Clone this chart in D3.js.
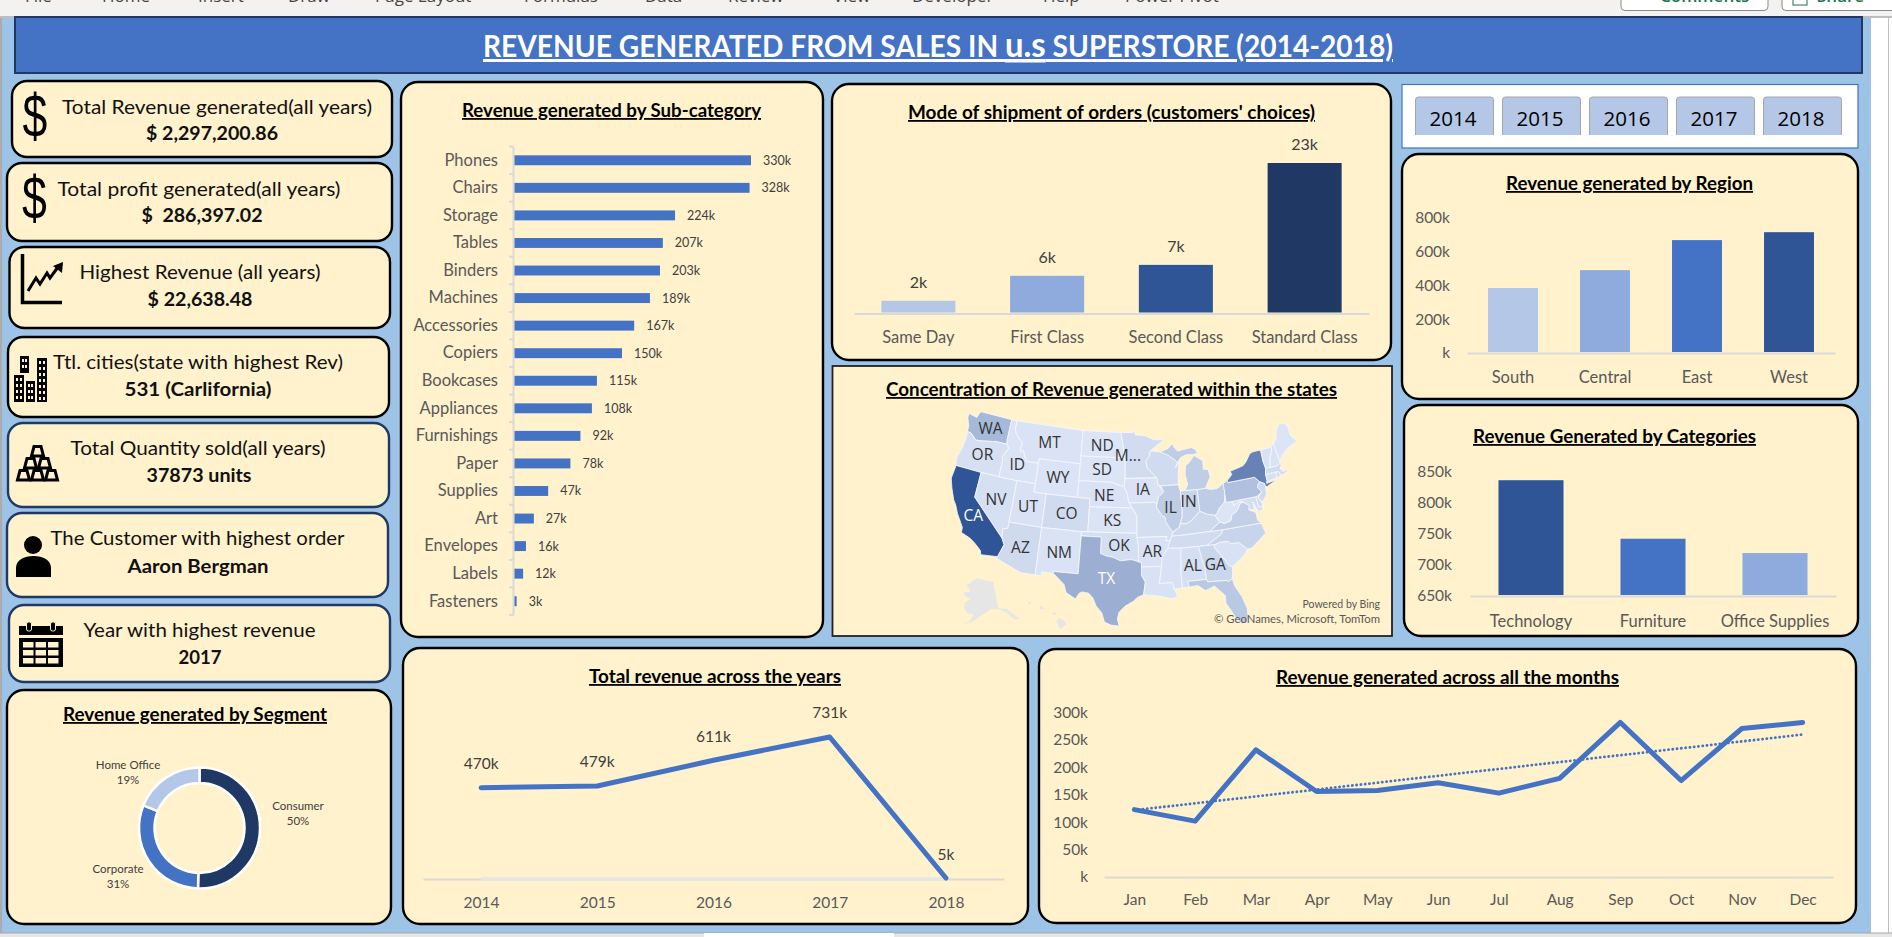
<!DOCTYPE html>
<html>
<head>
<meta charset="utf-8">
<title>Revenue dashboard</title>
<script src="https://cdn.jsdelivr.net/npm/d3@7"></script>
<style>
body {margin:0; background:#fff; overflow:hidden;}
text {font-family:Lato,"Open Sans",sans-serif;}
.axis text {font-size:15.5px; fill:#595959;}
.axis.names text {font-size:16.5px;}
.axis path, .axis line {stroke:#D9D9D9; stroke-width:2;}
.lbl {font-size:16px; fill:#404040; text-anchor:middle;}
.title {font-size:18px; font-weight:700; fill:#000; text-anchor:middle; text-decoration:underline;}
.card1 {font-size:19px; fill:#111; text-anchor:middle;}
.card2 {font-size:19px; font-weight:700; fill:#111; text-anchor:middle;}
.st {font-family:"Open Sans",sans-serif; font-size:15.5px; fill:#333; text-anchor:middle;}
</style>
</head>
<body>
<svg id="plot" width="1892" height="937"></svg>
<script>
// data
var subCats = ['Phones','Chairs','Storage','Tables','Binders','Machines','Accessories','Copiers','Bookcases','Appliances','Furnishings','Paper','Supplies','Art','Envelopes','Labels','Fasteners'];
var subVals = [330,328,224,207,203,189,167,150,115,108,92,78,47,27,16,12,3];

var shipModes = ['Same Day','First Class','Second Class','Standard Class'];
var shipVals = [1940,5760,7430,23000];
var shipColors = ['#B4C7E7','#8FAADC','#2F5597','#203864'];

var regions = ['South','Central','East','West'];
var regionVals = [385,491,669,716];
var regionColors = ['#B4C7E7','#8FAADC','#4472C4','#2F5597'];
var regionTicks = [0,200,400,600,800];

var categories = ['Technology','Furniture','Office Supplies'];
var categoryVals = [836,742,719];
var categoryColors = ['#2F5597','#4472C4','#8FAADC'];
var categoryTicks = [650,700,750,800,850];

var years = ['2014','2015','2016','2017','2018'];
var yearVals = [470,479,611,731,5];
var yearFloor = [0,0,0,0,0];

var months = ['Jan','Feb','Mar','Apr','May','Jun','Jul','Aug','Sep','Oct','Nov','Dec'];
var monthVals = [123,102,232,156,158,172,153,180,282,176,271,282];
var monthTrendMonths = ['Jan','Dec'];
var monthTrendVals = [122,260];
var monthTicks = [0,50,100,150,200,250,300];

var segments = ['Consumer','Corporate','Home Office'];
var segmentVals = [50.4,30.7,18.9];
var segmentColors = ['#203864','#4472C4','#B4C7E7'];

var slicerYears = ['2014','2015','2016','2017','2018'];

var kpiLabels = ['Total Revenue generated(all years)','Total profit generated(all years)','Highest Revenue (all years)','Ttl. cities(state with highest Rev)','Total Quantity sold(all years)','The Customer with highest order','Year with highest revenue'];
var kpiValues = ['$ 2,297,200.86','$\u00A0 286,397.02','$ 22,638.48','531 (Carlifornia)','37873 units','Aaron Bergman','2017'];

// state revenue in thousands, estimated from the shade of each state
var stateRevenue = {CA:457,NY:310,TX:170,WA:139,PA:117,FL:89,IL:80,OH:78,MI:76,VA:70,NC:55,IN:53,GA:49,KY:37,NJ:35,AZ:35,WI:32,CO:32,TN:30,MN:30,MA:29,DE:27,MD:23,RI:22,MO:22,OK:19,AL:19,OR:17,NV:16,AR:11,CT:13,UT:11,MS:10,LA:9,SC:8,NE:7,NH:7,MT:5,NM:5,IA:5,KS:3,ID:4,VT:9,ME:1,SD:1,ND:1,WV:1,WY:2};

// rough state outlines, lon/lat
var stateShapes = {
WA:[[-124.7,48.4],[-123.2,48.2],[-122.8,49],[-117.03,49],[-117.04,46.4],[-116.92,45.99],[-118.98,46],[-119.3,45.93],[-121.2,45.65],[-122.3,45.55],[-122.8,45.9],[-123.4,46.2],[-124.05,46.27],[-124.1,46.9],[-124.7,47.9]],
OR:[[-124.05,46.27],[-123.4,46.2],[-122.8,45.9],[-122.3,45.55],[-121.2,45.65],[-119.3,45.93],[-118.98,46],[-116.92,45.99],[-116.46,45.6],[-117.2,44.4],[-117.03,44],[-117.03,42],[-120,42],[-124.2,42],[-124.55,42.85],[-124.1,44],[-123.95,45.5]],
CA:[[-124.2,42],[-120,42],[-120,39],[-114.63,35],[-114.13,34.27],[-114.72,32.72],[-117.12,32.53],[-117.3,33],[-118.4,33.75],[-119.2,34.15],[-120.6,34.55],[-120.65,35.15],[-121.9,36.6],[-122.5,37.5],[-123,38],[-123.8,39.3],[-124.35,40.4]],
NV:[[-120,42],[-117.03,42],[-114.04,42],[-114.04,37],[-114.04,36.2],[-114.75,36.1],[-114.63,35],[-120,39]],
ID:[[-117.03,49],[-116.05,49],[-116.05,48],[-115.7,47.45],[-114.7,46.7],[-114.35,46.65],[-114.5,45.55],[-113.9,45.6],[-113.45,44.9],[-113,44.45],[-111.05,44.48],[-111.05,42],[-114.04,42],[-117.03,42],[-117.03,44],[-117.2,44.4],[-116.46,45.6],[-116.92,45.99],[-117.04,46.4]],
MT:[[-116.05,49],[-104.05,49],[-104.05,45.94],[-104.05,45],[-111.05,45],[-111.05,44.48],[-113,44.45],[-113.45,44.9],[-113.9,45.6],[-114.5,45.55],[-114.35,46.65],[-114.7,46.7],[-115.7,47.45],[-116.05,48]],
WY:[[-111.05,45],[-104.05,45],[-104.05,43],[-104.05,41],[-109.05,41],[-111.05,41],[-111.05,42],[-111.05,44.48]],
UT:[[-114.04,42],[-111.05,42],[-111.05,41],[-109.05,41],[-109.05,37],[-114.04,37]],
CO:[[-109.05,41],[-104.05,41],[-102.05,41],[-102.05,40],[-102.05,37],[-103,37],[-109.05,37]],
AZ:[[-114.04,37],[-109.05,37],[-109.05,31.33],[-111.07,31.33],[-114.81,32.49],[-114.72,32.72],[-114.13,34.27],[-114.63,35],[-114.75,36.1],[-114.04,36.2]],
NM:[[-109.05,37],[-103,37],[-103,36.5],[-103.04,32],[-106.62,32],[-106.53,31.78],[-108.2,31.78],[-108.2,31.33],[-109.05,31.33]],
ND:[[-104.05,49],[-97.23,49],[-96.85,47.5],[-96.56,45.94],[-104.05,45.94]],
SD:[[-104.05,45.94],[-96.56,45.94],[-96.45,45.3],[-96.45,43.5],[-96.6,42.5],[-97.9,42.8],[-98.5,43],[-104.05,43],[-104.05,45]],
NE:[[-104.05,43],[-98.5,43],[-97.9,42.8],[-96.6,42.5],[-96.1,41.7],[-95.85,40.7],[-95.3,40],[-102.05,40],[-102.05,41],[-104.05,41]],
KS:[[-102.05,40],[-95.3,40],[-94.62,39.1],[-94.62,37],[-103,37],[-102.05,37]],
OK:[[-103,37],[-94.62,37],[-94.62,36.5],[-94.43,35.4],[-94.48,33.64],[-95.5,33.9],[-97.1,33.75],[-98.1,34.13],[-99.2,34.3],[-100,34.56],[-100,36.5],[-103,36.5]],
TX:[[-106.62,32],[-103.04,32],[-103,36.5],[-100,36.5],[-100,34.56],[-99.2,34.3],[-98.1,34.13],[-97.1,33.75],[-95.5,33.9],[-94.48,33.64],[-94.04,33.55],[-94.04,33],[-94.04,31.99],[-93.55,31.2],[-93.84,29.7],[-94.7,29.4],[-95.3,28.9],[-96.4,28.35],[-97.2,27.6],[-97.4,26.8],[-97.15,25.96],[-98.2,26.05],[-99.1,26.4],[-99.5,27.5],[-100.3,28.3],[-100.8,29.25],[-101.4,29.77],[-102.3,29.88],[-102.7,29.7],[-103.15,28.98],[-104.5,29.65],[-104.9,30.6],[-106.53,31.78]],
MN:[[-97.23,49],[-95.15,49],[-95.15,49.38],[-94.6,48.7],[-93,48.6],[-91.4,48.05],[-89.6,48],[-92.1,46.75],[-92.3,46.1],[-92.9,45.6],[-92.75,44.75],[-91.2,43.5],[-96.45,43.5],[-96.45,45.3],[-96.56,45.94],[-96.85,47.5]],
IA:[[-96.45,43.5],[-91.2,43.5],[-91.1,42.7],[-90.2,41.8],[-91.1,41.2],[-91.4,40.4],[-91.7,40.6],[-95.77,40.58],[-95.85,40.7],[-96.1,41.7],[-96.6,42.5]],
MO:[[-95.77,40.58],[-91.7,40.6],[-91.4,40.4],[-91.5,40],[-90.7,39],[-90.2,38.75],[-90.2,38.3],[-89.5,37.3],[-89.15,37],[-89.4,36.5],[-89.7,36],[-90.37,36],[-90.15,36.5],[-94.62,36.5],[-94.62,37],[-94.62,39.1],[-95.3,40],[-95.85,40.7]],
AR:[[-94.62,36.5],[-90.15,36.5],[-90.37,36],[-89.7,36],[-90.1,35.1],[-90.6,34.6],[-91.1,33.9],[-91.17,33],[-94.04,33],[-94.04,33.55],[-94.48,33.64],[-94.43,35.4]],
LA:[[-94.04,33],[-91.17,33],[-91.6,31],[-89.73,31],[-89.6,30.2],[-89.4,29.9],[-89.2,29.2],[-90.2,29.1],[-91.3,29.4],[-92.3,29.55],[-93.84,29.7],[-93.55,31.2],[-94.04,31.99]],
WI:[[-92.1,46.75],[-90.4,46.55],[-89.1,46.1],[-87.8,45.35],[-87.6,45.1],[-88,44.55],[-87.3,45.2],[-87.55,44.2],[-87.8,42.5],[-90.65,42.5],[-91.1,42.7],[-91.2,43.5],[-92.75,44.75],[-92.9,45.6],[-92.3,46.1]],
IL:[[-90.65,42.5],[-87.8,42.5],[-87.53,41.7],[-87.53,39.35],[-87.6,38.7],[-88,37.9],[-88.1,37.5],[-89.15,37],[-89.5,37.3],[-90.2,38.3],[-90.2,38.75],[-90.7,39],[-91.5,40],[-91.4,40.4],[-91.1,41.2],[-90.2,41.8]],
IN:[[-87.53,41.7],[-87.2,41.75],[-86.8,41.76],[-84.8,41.7],[-84.8,39.1],[-85.4,38.7],[-86.3,38.1],[-87.1,37.8],[-88,37.9],[-87.6,38.7],[-87.53,39.35]],
OH:[[-84.8,41.7],[-83.45,41.73],[-82.7,41.5],[-81.6,41.5],[-80.52,41.98],[-80.52,40.64],[-80.85,39.7],[-81.7,39.2],[-82.2,38.6],[-82.6,38.4],[-83.7,38.65],[-84.8,39.1]],
MI:[[-86.8,41.76],[-84.8,41.7],[-83.45,41.73],[-83.1,42.2],[-82.45,43],[-82.6,43.9],[-83.4,44],[-83.3,45],[-84.7,45.78],[-85.6,45],[-86.3,44.7],[-86.5,43.6],[-86.25,42.4]],
MIU:[[-90.4,46.55],[-89,46.9],[-88.2,47.45],[-87.9,46.9],[-87.4,46.5],[-85,46.75],[-84.4,46.5],[-84,46],[-84.75,45.9],[-86,45.95],[-87,45.7],[-87.6,45.1],[-87.8,45.35],[-89.1,46.1]],
KY:[[-89.15,37],[-88.1,37.5],[-88,37.9],[-87.1,37.8],[-86.3,38.1],[-85.4,38.7],[-84.8,39.1],[-83.7,38.65],[-82.6,38.4],[-81.97,37.54],[-83.68,36.6],[-88.07,36.5],[-89.4,36.5]],
TN:[[-89.4,36.5],[-88.07,36.5],[-83.68,36.6],[-81.68,36.59],[-82,36.1],[-84.32,35],[-85.6,35],[-88.2,35],[-90.1,35.1],[-89.7,36]],
MS:[[-90.1,35.1],[-88.2,35],[-88.47,31.9],[-88.4,30.3],[-89.6,30.2],[-89.73,31],[-91.6,31],[-91.17,33],[-91.1,33.9],[-90.6,34.6]],
AL:[[-88.2,35],[-85.6,35],[-85.18,32.87],[-85,32.3],[-85,31],[-87.6,31],[-87.5,30.3],[-88.4,30.3],[-88.47,31.9]],
GA:[[-85.6,35],[-84.32,35],[-83.1,35],[-83.35,34.7],[-81.45,32.2],[-81.1,32.1],[-81.4,30.7],[-82,30.4],[-82.2,30.57],[-84.86,30.7],[-85,31],[-85,32.3],[-85.18,32.87]],
FL:[[-87.6,31],[-85,31],[-84.86,30.7],[-82.2,30.57],[-82,30.4],[-81.4,30.7],[-81.25,29.8],[-80.5,28.4],[-80.05,26.9],[-80.15,25.75],[-80.4,25.2],[-81.1,25.15],[-81.8,26.1],[-82.2,26.9],[-82.75,27.9],[-82.7,28.8],[-83.4,29.5],[-84,30.1],[-85.3,29.7],[-86.3,30.4],[-87.5,30.3]],
SC:[[-83.1,35],[-82.3,35.2],[-81.05,35.1],[-80.8,34.82],[-79.67,34.8],[-78.55,33.85],[-79.2,33.2],[-80.4,32.5],[-81.1,32.1],[-81.45,32.2],[-83.35,34.7]],
NC:[[-84.32,35],[-82,36.1],[-81.68,36.59],[-75.87,36.55],[-75.5,35.3],[-76.5,34.7],[-77.9,33.9],[-78.55,33.85],[-79.67,34.8],[-80.8,34.82],[-81.05,35.1],[-82.3,35.2],[-83.1,35]],
VA:[[-83.68,36.6],[-81.97,37.54],[-81.3,37.3],[-80.3,37.5],[-79.95,38.2],[-79.3,38.4],[-78.87,38.76],[-78.35,39.4],[-77.75,39.32],[-77.05,38.85],[-77.3,38.4],[-76.3,37.9],[-76.3,37],[-75.87,36.55],[-81.68,36.59]],
WV:[[-82.6,38.4],[-82.2,38.6],[-81.7,39.2],[-80.85,39.7],[-80.52,40.64],[-80.52,39.72],[-79.48,39.72],[-79.48,39.2],[-78.4,39.65],[-77.75,39.32],[-78.35,39.4],[-78.87,38.76],[-79.3,38.4],[-79.95,38.2],[-80.3,37.5],[-81.3,37.3],[-81.97,37.54]],
MD:[[-79.48,39.72],[-75.79,39.72],[-75.7,38.46],[-75.05,38.45],[-75.25,38.03],[-75.9,37.95],[-76.45,39.2],[-76.4,38.3],[-77.3,38.4],[-77.05,38.85],[-77.75,39.32],[-78.4,39.65],[-79.48,39.2]],
DE:[[-75.79,39.72],[-75.42,39.8],[-75.1,38.8],[-75.05,38.45],[-75.7,38.46]],
PA:[[-80.52,41.98],[-79.76,42.27],[-79.76,42],[-75.35,42],[-74.7,41.36],[-75.13,40.97],[-75.2,40.7],[-74.72,40.15],[-75.42,39.8],[-75.79,39.72],[-79.48,39.72],[-80.52,39.72],[-80.52,40.64]],
NY:[[-79.76,42.27],[-78.9,42.85],[-79.05,43.27],[-76.8,43.63],[-76.2,44],[-75.3,44.85],[-74.7,45],[-73.35,45],[-73.4,43.6],[-73.27,42.75],[-73.5,42.05],[-73.5,41.3],[-73.65,41],[-72,41.1],[-73.7,40.6],[-74,40.65],[-74,41],[-74.7,41.36],[-75.35,42],[-79.76,42]],
NJ:[[-74.7,41.36],[-74,41],[-74,40.45],[-74.1,39.75],[-74.9,38.95],[-75.5,39.5],[-74.72,40.15],[-75.2,40.7],[-75.13,40.97]],
CT:[[-73.65,41],[-73.5,41.3],[-73.5,42.05],[-71.8,42.02],[-71.85,41.32],[-72.9,41.25]],
RI:[[-71.8,42.02],[-71.38,42.02],[-71.15,41.5],[-71.85,41.32]],
MA:[[-73.5,42.05],[-73.27,42.75],[-72.46,42.73],[-71.3,42.7],[-70.85,42.87],[-70.6,42.65],[-71,42.3],[-70.55,41.8],[-70,42.05],[-70,41.7],[-70.65,41.55],[-71.15,41.5],[-71.38,42.02],[-71.8,42.02]],
VT:[[-73.35,45],[-71.5,45],[-71.6,44.5],[-72.05,44],[-72.45,43],[-72.46,42.73],[-73.27,42.75],[-73.4,43.6]],
NH:[[-71.5,45.25],[-71,45.3],[-70.7,43.1],[-70.85,42.87],[-71.3,42.7],[-72.46,42.73],[-72.45,43],[-72.05,44],[-71.6,44.5],[-71.5,45]],
ME:[[-71,45.3],[-70.3,45.9],[-70,46.7],[-69.2,47.45],[-68.3,47.35],[-67.8,47.05],[-67.8,45.7],[-67,44.85],[-68.8,44.4],[-70.2,43.65],[-70.7,43.1]]
};
var greyShapes = [
[[-141,69.65],[-141,60.3],[-135.5,59.5],[-130,55],[-133,55.2],[-136,58],[-140,59.7],[-146,60.6],[-150,59.3],[-153,58.5],[-158,56.5],[-165,54.5],[-161,56],[-157.5,58.7],[-162,59],[-165,60.5],[-165,62.5],[-161,64],[-165,64.5],[-168,65.6],[-162,66.5],[-166,68.4],[-156.5,71.3],[-148,70.4]],
[[-156.06,19.73],[-155.83,20.27],[-155.2,19.97],[-154.8,19.5],[-155.67,18.92]],
[[-156.7,20.9],[-156.3,20.95],[-156,20.75],[-156.4,20.57]],
[[-158.25,21.55],[-157.95,21.7],[-157.65,21.3],[-158.1,21.3]],
[[-159.75,22.1],[-159.4,22.23],[-159.3,21.95],[-159.6,21.9]]
];
var stateLabels = ['WA','OR','ID','MT','ND','M...','WY','SD','NV','UT','CO','NE','IA','IL','IN','CA','KS','AZ','NM','OK','AR','TX','AL','GA'];
var stateLabelLon = [-120.3,-120.5,-114.5,-109.7,-100.5,-96,-107.5,-100.3,-116.7,-111.6,-105.5,-99.8,-93.6,-89.3,-86.4,-119.5,-98.4,-111.7,-106,-97.3,-92.4,-99,-86.7,-83.5];
var stateLabelLat = [47.3,44,43.8,47,47.3,46.2,43,44.4,39.3,39.2,38.9,41.4,42.1,39.8,40.3,36.8,38.5,34.2,34.2,35.5,34.8,31.5,32.8,32.6];

var ribbonTabs = ['File','Home','Insert','Draw','Page Layout','Formulas','Data','Review','View','Developer','Help','Power Pivot'];

var svg = d3.select('#plot');
var fmtK = function(d){ return d === 0 ? 'k' : d + 'k'; };

// window chrome and sheet background
svg.append('rect').attr('width',1892).attr('height',937).attr('fill','#fff');
svg.append('rect').attr('x',2).attr('y',18).attr('width',1869).attr('height',915).attr('fill','#9DC3E6');
svg.append('rect').attr('x',0).attr('y',18).attr('width',2).attr('height',915).attr('fill','#ABABAB');
svg.append('line').attr('x1',1888.5).attr('x2',1888.5).attr('y1',18).attr('y2',933).attr('stroke','#BFBFBF');
svg.append('rect').attr('width',1892).attr('height',17).attr('fill','#F3F2F1');
svg.append('line').attr('x1',0).attr('x2',1892).attr('y1',17).attr('y2',17).attr('stroke','#ABABAB').attr('stroke-width',1.5);
var tabX = [25,102,198,288,375,524,645,728,833,912,1043,1125];
svg.selectAll('.tab').data(ribbonTabs).enter().append('text')
    .attr('x',function(d,i){ return tabX[i]; }).attr('y',1.5)
    .style('font-family','Open Sans').style('font-size','17px').attr('fill','#444')
    .text(function(d){ return d; });
svg.append('rect').attr('x',1621).attr('y',-5).attr('width',147).attr('height',15.5).attr('rx',4).attr('fill','#fff').attr('stroke','#8A8A8A');
svg.append('rect').attr('x',1782).attr('y',-5).attr('width',120).attr('height',15.5).attr('rx',4).attr('fill','#fff').attr('stroke','#8A8A8A');
svg.append('text').attr('x',1660).attr('y',2).style('font-family','Open Sans').style('font-size','17px').style('font-weight',600).attr('fill','#217346').text('Comments');
svg.append('text').attr('x',1817).attr('y',2).style('font-family','Open Sans').style('font-size','17px').style('font-weight',600).attr('fill','#217346').text('Share');
svg.append('rect').attr('x',1793).attr('y',-6).attr('width',14).attr('height',11).attr('fill','#fff').attr('stroke','#217346');
svg.append('rect').attr('x',0).attr('y',933).attr('width',1892).attr('height',4).attr('fill','#E6E6E6');
svg.append('line').attr('x1',0).attr('x2',1892).attr('y1',933).attr('y2',933).attr('stroke','#A6A6A6');
svg.append('rect').attr('x',704).attr('y',933).attr('width',190).attr('height',4).attr('fill','#fff');

// header
svg.append('rect').attr('x',15).attr('y',17).attr('width',1847).attr('height',56).attr('fill','#4472C4').attr('stroke','#1F3864').attr('stroke-width',2);
var headTxt = svg.append('text').attr('x',938).attr('y',57).attr('text-anchor','middle')
    .style('font-size','30px').style('font-weight',700).style('text-decoration','underline').attr('fill','#fff')
    .attr('textLength',910).attr('lengthAdjust','spacingAndGlyphs');
headTxt.append('tspan').text('REVENUE GENERATED FROM SALES IN ');
headTxt.append('tspan').style('font-size','35px').text('u.s');
headTxt.append('tspan').text(' SUPERSTORE (2014-2018)');

function panel(x0,y0,x1,y1,color,r){
    svg.append('rect').attr('x',x0).attr('y',y0).attr('width',x1-x0).attr('height',y1-y0)
        .attr('rx',r === undefined ? 17 : r).attr('fill','#FFF2CC').attr('stroke',color || '#000').attr('stroke-width',r === 0 ? 1.8 : 2.4);
}
function title(txt,cx,cy,w){
    svg.append('text').attr('class','title').attr('x',cx).attr('y',cy+7)
        .attr('textLength',w).attr('lengthAdjust','spacingAndGlyphs').text(txt);
}

// kpi cards
var kpiBoxes = [[12,81,392,157,'#000'],[7,163,392,241,'#000'],[9.5,247,390,328,'#000'],[8,337,389,417,'#000'],[8,423,389,507,'#1F3864'],[7,513,388,597,'#1F3864'],[9,605,390,682,'#1F3864']];
var kpiText = [[217,107,310,212,133,132],[199,189,283,202,215,121],[200,272,241,200,299,105],[198,362,290,198,389,147],[198,448,255,199,475,105],[197.5,538,294,198,566,141],[199.5,630,232,200,657,43]];
kpiBoxes.forEach(function(b,i){
    panel(b[0],b[1],b[2],b[3],b[4],15);
    var t = kpiText[i];
    svg.append('text').attr('class','card1').attr('x',t[0]).attr('y',t[1]+6.5)
        .attr('textLength',t[2]).attr('lengthAdjust','spacingAndGlyphs').text(kpiLabels[i]);
    svg.append('text').attr('class','card2').attr('x',t[3]).attr('y',t[4]+6.5)
        .attr('textLength',t[5]).attr('lengthAdjust','spacingAndGlyphs').text(kpiValues[i]);
});

// icons
function dollar(x,y){
    svg.append('text').attr('transform','translate('+x+','+y+') scale(0.72,1)').attr('text-anchor','middle')
        .style('font-family','Liberation Sans').style('font-size','62px').attr('fill','#000').text('$');
}
dollar(35,137);
dollar(34.5,219);
var chartIcon = svg.append('g');
chartIcon.append('path').attr('d','M22.5 254V302.5H62').attr('fill','none').attr('stroke','#000').attr('stroke-width',3.5);
chartIcon.append('path').attr('d','M28 291L36 278L40 284L47 273L50 278L58 267').attr('fill','none').attr('stroke','#000').attr('stroke-width',3);
chartIcon.append('path').attr('d','M53 266L63 262L62 273Z').attr('fill','#000');

var cityIcon = svg.append('g');
[[20,356,9,17],[14,375,10,27],[26,381,9,21],[37,358,10,44]].forEach(function(b){
    cityIcon.append('rect').attr('x',b[0]).attr('y',b[1]).attr('width',b[2]).attr('height',b[3]).attr('fill','#000');
    d3.range(b[1]+3,b[1]+b[3]-4,6).forEach(function(wy){
        cityIcon.append('rect').attr('x',b[0]+2).attr('y',wy).attr('width',2).attr('height',3).attr('fill','#FFF2CC');
        cityIcon.append('rect').attr('x',b[0]+b[2]-4).attr('y',wy).attr('width',2).attr('height',3).attr('fill','#FFF2CC');
    });
});

var goldIcon = svg.append('g');
[[17,469],[31,469],[45,469],[24,457],[38,457],[31,445]].forEach(function(b){
    goldIcon.append('path').attr('d','M'+(b[0]+3)+' '+(b[1]+1.5)+'H'+(b[0]+10)+'L'+(b[0]+12.5)+' '+(b[1]+11)+'H'+(b[0]+0.5)+'Z')
        .attr('fill','none').attr('stroke','#000').attr('stroke-width',3);
});

svg.append('circle').attr('cx',33).attr('cy',545).attr('r',9).attr('fill','#000');
svg.append('path').attr('d','M16 577V568C16 560 24 556 33.5 556C43 556 51 560 51 568V577Z').attr('fill','#000');

var calIcon = svg.append('g');
calIcon.append('rect').attr('x',19).attr('y',626).attr('width',44).attr('height',9).attr('fill','#000');
calIcon.append('rect').attr('x',19).attr('y',638).attr('width',44).attr('height',29).attr('fill','#000');
[29,53].forEach(function(cx){
    calIcon.append('rect').attr('x',cx-2.5).attr('y',622).attr('width',5).attr('height',9).attr('rx',2).attr('fill','#000').attr('stroke','#FFF2CC');
});
d3.range(3).forEach(function(c){ d3.range(3).forEach(function(r){
    calIcon.append('rect').attr('x',23+c*12.5).attr('y',642+r*8).attr('width',10.5).attr('height',5.5).attr('fill','#FFF2CC');
}); });

// sub-category bars
panel(401,82,823,637);
title('Revenue generated by Sub-category',611.5,110,299);
var subY = d3.scaleBand().domain(subCats).range([146.5,615]).paddingInner(0.64).paddingOuter(0.32);
var subX = d3.scaleLinear().domain([0,330]).range([514.5,751]);
svg.selectAll('.subTick').data(d3.range(subCats.length+1)).enter().append('line')
    .attr('x1',509).attr('x2',513)
    .attr('y1',function(d){ return 146.5+d*subY.step(); })
    .attr('y2',function(d){ return 146.5+d*subY.step(); })
    .attr('stroke','#D9D9D9').attr('stroke-width',2);
svg.append('g').attr('class','axis names').attr('transform','translate(513,0)')
    .call(d3.axisLeft(subY).tickSize(0).tickPadding(15));
svg.selectAll('.subBar').data(subVals).enter().append('rect')
    .attr('x',subX(0)).attr('y',function(d,i){ return subY(subCats[i]); })
    .attr('width',function(d){ return subX(d)-subX(0); }).attr('height',subY.bandwidth()).attr('fill','#4472C4');
svg.selectAll('.subLbl').data(subVals).enter().append('text')
    .attr('x',function(d){ return subX(d)+12; })
    .attr('y',function(d,i){ return subY(subCats[i])+subY.bandwidth()/2+4.5; })
    .style('font-size','12.5px').attr('fill','#404040').text(fmtK);

// shipment bars
panel(832,84,1391,360);
title("Mode of shipment of orders (customers' choices)",1111.5,112,407);
var shipX = d3.scaleBand().domain(shipModes).range([854,1369]).paddingInner(0.425).paddingOuter(0.2125);
var shipY = d3.scaleLinear().domain([0,23000]).range([313.5,163]);
svg.append('g').attr('class','axis names').attr('transform','translate(0,313.5)')
    .call(d3.axisBottom(shipX).tickSize(0).tickPadding(17.5));
svg.selectAll('.shipBar').data(shipVals).enter().append('rect')
    .attr('x',function(d,i){ return shipX(shipModes[i]); }).attr('y',function(d){ return shipY(d); })
    .attr('width',shipX.bandwidth()).attr('height',function(d){ return 312.5-shipY(d); })
    .attr('fill',function(d,i){ return shipColors[i]; });
svg.selectAll('.shipLbl').data(shipVals).enter().append('text').attr('class','lbl')
    .attr('x',function(d,i){ return shipX(shipModes[i])+shipX.bandwidth()/2; })
    .attr('y',function(d){ return shipY(d)-13; })
    .text(function(d){ return Math.round(d/1000)+'k'; });

// map
panel(832.5,366,1392,636,'#222',0);
title('Concentration of Revenue generated within the states',1111.5,389,451);
function rewound(ring){
    var f = {type:'Polygon',coordinates:[ring.concat([ring[0]])]};
    if (d3.geoArea(f) > 2*Math.PI) f.coordinates[0].reverse();
    return f;
}
var projection = d3.geoAlbersUsa().scale(480).translate([1124,519]);
var geo = d3.geoPath(projection);
var stateColor = d3.scaleLinear().domain([0,457]).range(['#DCE5F6','#2F5597']);
svg.selectAll('.grey').data(greyShapes).enter().append('path')
    .attr('d',function(d){ return geo(rewound(d)); }).attr('fill','#E6E6E6');
svg.selectAll('.state').data(Object.keys(stateShapes)).enter().append('path')
    .attr('d',function(d){ return geo(rewound(stateShapes[d])); })
    .attr('fill',function(d){ return stateColor(stateRevenue[d === 'MIU' ? 'MI' : d]); })
    .attr('stroke','#F7F8FC').attr('stroke-width',0.8).attr('stroke-linejoin','round');
svg.selectAll('.stLbl').data(stateLabels).enter().append('text').attr('class','st')
    .attr('x',function(d,i){ return projection([stateLabelLon[i],stateLabelLat[i]])[0]; })
    .attr('y',function(d,i){ return projection([stateLabelLon[i],stateLabelLat[i]])[1]+5; })
    .style('fill',function(d){ return d === 'CA' || d === 'TX' ? '#fff' : '#333'; })
    .text(function(d){ return d; });
svg.append('text').attr('x',1380).attr('y',608).attr('text-anchor','end').style('font-size','10.5px').attr('fill','#595959').text('Powered by Bing');
svg.append('text').attr('x',1380).attr('y',623).attr('text-anchor','end').style('font-size','10.5px').attr('fill','#595959')
    .attr('textLength',166).attr('lengthAdjust','spacingAndGlyphs').text('\u00A9 GeoNames, Microsoft, TomTom');

// year slicer
svg.append('rect').attr('x',1402).attr('y',84.5).attr('width',456).attr('height',63.5).attr('fill','#fff').attr('stroke','#4472C4').attr('stroke-width',1.2);
svg.selectAll('.slBtn').data(slicerYears).enter().append('path')
    .attr('d',function(d,i){ var x = 1415.5+i*87; return 'M'+x+' 135V100q0 -3 3 -3H'+(x+75)+'q3 0 3 3V135'; })
    .attr('fill','#B4C7E7').attr('stroke','#A6A6A6');
svg.selectAll('.slTxt').data(slicerYears).enter().append('text')
    .attr('x',function(d,i){ return 1453+i*87; }).attr('y',125.5).attr('text-anchor','middle')
    .style('font-family','Open Sans').style('font-size','20.5px').attr('fill','#000').text(function(d){ return d; });

// region bars
panel(1402,154,1858,399);
title('Revenue generated by Region',1629.5,183,247);
var regX = d3.scaleBand().domain(regions).range([1467,1835]).paddingInner(0.457).paddingOuter(0.2285);
var regY = d3.scaleLinear().domain([0,800]).range([353,218]);
svg.append('g').attr('class','axis').attr('transform','translate(1467,0)')
    .call(d3.axisLeft(regY).tickValues(regionTicks).tickFormat(fmtK).tickSize(0).tickPadding(17))
    .select('.domain').remove();
svg.append('g').attr('class','axis names').attr('transform','translate(0,353)')
    .call(d3.axisBottom(regX).tickSize(0).tickPadding(18));
svg.selectAll('.regBar').data(regionVals).enter().append('rect')
    .attr('x',function(d,i){ return regX(regions[i]); }).attr('y',function(d){ return regY(d); })
    .attr('width',regX.bandwidth()).attr('height',function(d){ return 352-regY(d); })
    .attr('fill',function(d,i){ return regionColors[i]; });

// category bars, axis starts at 650k like the original
panel(1404,405,1858,636);
title('Revenue Generated by Categories',1614.5,436,283);
var catX = d3.scaleBand().domain(categories).range([1470,1836]).paddingInner(0.467).paddingOuter(0.2335);
var catY = d3.scaleLinear().domain([650,850]).range([596,471.5]);
svg.append('g').attr('class','axis').attr('transform','translate(1470,0)')
    .call(d3.axisLeft(catY).tickValues(categoryTicks).tickFormat(fmtK).tickSize(0).tickPadding(18))
    .select('.domain').remove();
svg.append('g').attr('class','axis names').attr('transform','translate(0,596)')
    .call(d3.axisBottom(catX).tickSize(0).tickPadding(19));
svg.selectAll('.catBar').data(categoryVals).enter().append('rect')
    .attr('x',function(d,i){ return catX(categories[i]); }).attr('y',function(d){ return catY(d); })
    .attr('width',catX.bandwidth()).attr('height',function(d){ return 595-catY(d); })
    .attr('fill',function(d,i){ return categoryColors[i]; });

// revenue per year line
panel(403,648,1028,924);
title('Total revenue across the years',715,676,252);
var yrX = d3.scalePoint().domain(years).range([423,1004]).padding(0.5);
var yrY = d3.scaleLinear().domain([0,750]).range([879,733.3]);
svg.append('g').attr('class','axis').attr('transform','translate(0,879)')
    .call(d3.axisBottom(yrX).tickSize(0).tickPadding(18));
var yrLine = d3.line().x(function(d,i){ return yrX(years[i]); }).y(function(d){ return yrY(d); });
svg.append('path').datum(yearFloor).attr('d',yrLine).attr('fill','none').attr('stroke','#E7E6E6').attr('stroke-width',3.5);
svg.append('path').datum(yearVals).attr('d',yrLine).attr('fill','none').attr('stroke','#4472C4').attr('stroke-width',5).attr('stroke-linecap','round').attr('stroke-linejoin','round');
svg.selectAll('.yrLbl').data(yearVals).enter().append('text').attr('class','lbl').style('font-size','15.5px')
    .attr('x',function(d,i){ return yrX(years[i]); }).attr('y',function(d){ return yrY(d)-18.5; }).text(fmtK);

// revenue per month line with trend
panel(1039,649,1856,923);
title('Revenue generated across all the months',1447.5,677,343);
var moX = d3.scalePoint().domain(months).range([1104,1833]).padding(0.5);
var moY = d3.scaleLinear().domain([0,300]).range([877,712.6]);
svg.append('g').attr('class','axis').attr('transform','translate(1104,0)')
    .call(d3.axisLeft(moY).tickValues(monthTicks).tickFormat(fmtK).tickSize(0).tickPadding(16))
    .select('.domain').remove();
svg.append('g').attr('class','axis').attr('transform','translate(0,877)')
    .call(d3.axisBottom(moX).tickSize(0).tickPadding(17));
var moLine = d3.line().x(function(d,i){ return moX(months[i]); }).y(function(d){ return moY(d); });
svg.append('path').datum(monthVals).attr('d',moLine).attr('fill','none').attr('stroke','#4472C4').attr('stroke-width',5).attr('stroke-linecap','round').attr('stroke-linejoin','round');
svg.append('path').datum(monthTrendVals)
    .attr('d',d3.line().x(function(d,i){ return moX(monthTrendMonths[i]); }).y(function(d){ return moY(d); }))
    .attr('fill','none').attr('stroke','#4472C4').attr('stroke-width',2.8).attr('stroke-dasharray','0.1 4.2').attr('stroke-linecap','round');

// segment donut
panel(7,690,391,924);
title('Revenue generated by Segment',195,714,264);
var pie = d3.pie().sort(null);
var arc = d3.arc().innerRadius(45).outerRadius(60.5);
var donut = svg.append('g').attr('transform','translate(199.5,828)');
donut.selectAll('path').data(pie(segmentVals)).enter().append('path')
    .attr('d',arc).attr('fill',function(d,i){ return segmentColors[i]; })
    .attr('stroke','#fff').attr('stroke-width',2.5);
var segLblX = [298,118,128], segLblY = [806,869,765];
var fmtPct = d3.format('.0%');
svg.selectAll('.segName').data(segments).enter().append('text')
    .attr('x',function(d,i){ return segLblX[i]; }).attr('y',function(d,i){ return segLblY[i]+4; })
    .attr('text-anchor','middle').style('font-size','11.5px').attr('fill','#404040').text(function(d){ return d; });
svg.selectAll('.segPct').data(segmentVals).enter().append('text')
    .attr('x',function(d,i){ return segLblX[i]; }).attr('y',function(d,i){ return segLblY[i]+19; })
    .attr('text-anchor','middle').style('font-size','11.5px').attr('fill','#404040').text(function(d){ return fmtPct(d/100); });
</script>
</body>
</html>
